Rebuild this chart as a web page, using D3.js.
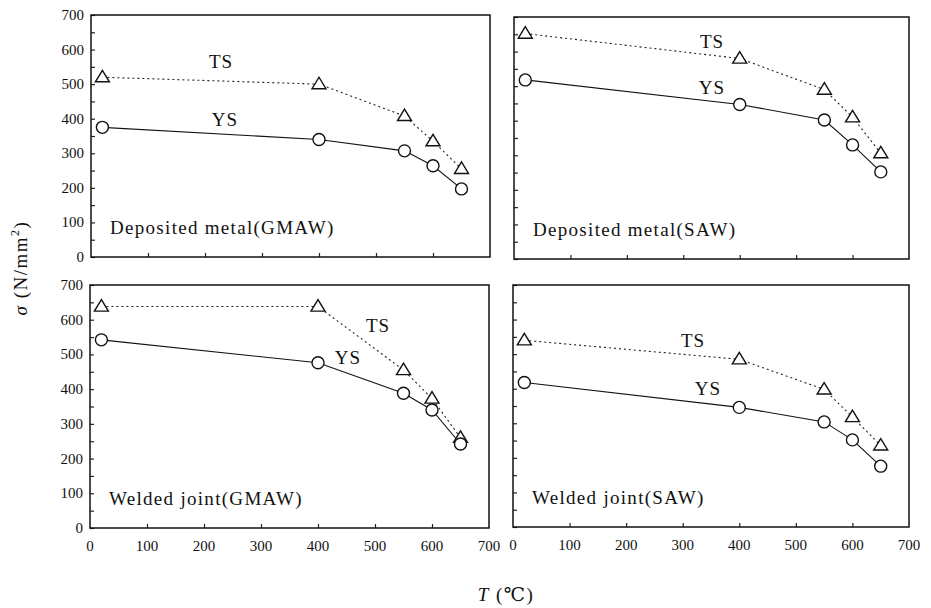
<!DOCTYPE html>
<html>
<head>
<meta charset="utf-8">
<script src="https://cdn.jsdelivr.net/npm/d3@7"></script>
<style>
  body { margin: 0; background: #fff; }
  svg text { font-family: "Liberation Serif", "DejaVu Serif", serif; fill: #111; }
</style>
</head>
<body>
<div id="main-chart"></div>
<script>
const width = 931, height = 608;

// temperatures (°C)
const temps = [20, 400, 550, 600, 650];
const xTicks = [0, 100, 200, 300, 400, 500, 600, 700];
const yTicks = [0, 100, 200, 300, 400, 500, 600, 700];

const panelNames = ["Deposited metal(GMAW)", "Deposited metal(SAW)", "Welded joint(GMAW)", "Welded joint(SAW)"];

// tensile strength (TS) and yield strength (YS), N/mm²
const tsDepGMAW = [520, 500, 408, 335, 255];
const ysDepGMAW = [375, 340, 307, 264, 197];
const tsDepSAW = [652, 580, 490, 410, 306];
const ysDepSAW = [518, 447, 402, 330, 252];
const tsJointGMAW = [638, 638, 455, 373, 260];
const ysJointGMAW = [542, 476, 388, 340, 242];
const tsJointSAW = [540, 485, 398, 318, 236];
const ysJointSAW = [418, 346, 304, 252, 176];

const panels = [
  { name: panelNames[0], ts: tsDepGMAW, ys: ysDepGMAW, x0: 91, x1: 490, y0: 15, y1: 257, yLabels: true, xLabels: false,
    tsLab: [221, 68], ysLab: [225, 126] },
  { name: panelNames[1], ts: tsDepSAW, ys: ysDepSAW, x0: 514, x1: 909, y0: 17, y1: 259, yLabels: false, xLabels: false,
    tsLab: [712, 48], ysLab: [712, 94] },
  { name: panelNames[2], ts: tsJointGMAW, ys: ysJointGMAW, x0: 90, x1: 489, y0: 285, y1: 528, yLabels: true, xLabels: true,
    tsLab: [378, 332], ysLab: [348, 364] },
  { name: panelNames[3], ts: tsJointSAW, ys: ysJointSAW, x0: 513, x1: 909, y0: 285, y1: 527, yLabels: false, xLabels: true,
    tsLab: [693, 347], ysLab: [708, 395] }
];

const serif = "Liberation Serif, DejaVu Serif, serif";

const svg = d3.select("#main-chart")
  .append("svg")
  .attr("width", width)
  .attr("height", height);

// open triangle marker
function triPath(s) {
  const h = s * 0.82;
  return `M0,${-h * 0.6}L${s / 2},${h * 0.4}L${-s / 2},${h * 0.4}Z`;
}

panels.forEach(p => {
  const x = d3.scaleLinear().domain([0, 700]).range([p.x0, p.x1]);
  const y = d3.scaleLinear().domain([0, 700]).range([p.y1, p.y0]);
  const g = svg.append("g");

  // inward ticks on left axis every 50
  const yAxis = d3.axisRight(y).tickValues(d3.range(0, 701, 50)).tickSize(4).tickFormat("");
  g.append("g").attr("transform", `translate(${p.x0},0)`).call(yAxis)
    .call(a => a.select(".domain").remove())
    .selectAll("line").attr("stroke", "#222").attr("stroke-width", 1.2);

  // inward ticks on bottom axis
  const xAxis = d3.axisTop(x).tickValues(xTicks.slice(1, -1)).tickSize(4).tickFormat("");
  g.append("g").attr("transform", `translate(0,${p.y1})`).call(xAxis)
    .call(a => a.select(".domain").remove())
    .selectAll("line").attr("stroke", "#222").attr("stroke-width", 1.2);

  // frame
  g.append("rect")
    .attr("x", p.x0).attr("y", p.y0)
    .attr("width", p.x1 - p.x0).attr("height", p.y1 - p.y0)
    .attr("fill", "none").attr("stroke", "#111").attr("stroke-width", 1.5);

  if (p.yLabels) {
    g.selectAll("text.ytick").data(yTicks).enter().append("text")
      .attr("class", "ytick")
      .attr("x", p.x0 - 7).attr("y", d => y(d) + 5)
      .attr("text-anchor", "end").attr("font-size", 15).attr("font-family", serif)
      .text(d => d);
  }
  if (p.xLabels) {
    g.selectAll("text.xtick").data(xTicks).enter().append("text")
      .attr("class", "xtick")
      .attr("x", d => x(d)).attr("y", p.y1 + 23)
      .attr("text-anchor", "middle").attr("font-size", 15).attr("font-family", serif)
      .text(d => d);
  }

  const pts = v => temps.map((t, i) => [x(t), y(v[i])]);
  const line = d3.line();

  // TS dotted line
  g.append("path").attr("d", line(pts(p.ts)))
    .attr("fill", "none").attr("stroke", "#222").attr("stroke-width", 1.1)
    .attr("stroke-dasharray", "2,3");
  // YS solid line
  g.append("path").attr("d", line(pts(p.ys)))
    .attr("fill", "none").attr("stroke", "#111").attr("stroke-width", 1.1);

  g.selectAll("path.tri").data(pts(p.ts)).enter().append("path")
    .attr("class", "tri")
    .attr("transform", d => `translate(${d[0]},${d[1]})`)
    .attr("d", triPath(14))
    .attr("fill", "#fff").attr("stroke", "#111").attr("stroke-width", 1.4);

  g.selectAll("circle.ys").data(pts(p.ys)).enter().append("circle")
    .attr("class", "ys")
    .attr("cx", d => d[0]).attr("cy", d => d[1]).attr("r", 6)
    .attr("fill", "#fff").attr("stroke", "#111").attr("stroke-width", 1.4);

  g.append("text").attr("x", p.tsLab[0]).attr("y", p.tsLab[1]).attr("font-family", serif)
    .attr("text-anchor", "middle").attr("font-size", 19).attr("letter-spacing", 1).text("TS");
  g.append("text").attr("x", p.ysLab[0]).attr("y", p.ysLab[1]).attr("font-family", serif)
    .attr("text-anchor", "middle").attr("font-size", 19).attr("letter-spacing", 1).text("YS");

  g.append("text").attr("x", p.x0 + 19).attr("y", p.y1 - 23).attr("font-family", serif)
    .attr("font-size", 19).attr("letter-spacing", 1.3).text(p.name);
});

// axis titles
const yTitle = svg.append("text")
  .attr("transform", "translate(27,268) rotate(-90)")
  .attr("text-anchor", "middle").attr("font-size", 19).attr("letter-spacing", 1.5)
  .attr("font-family", serif);
yTitle.append("tspan").attr("font-style", "italic").text("σ");
yTitle.append("tspan").text(" (N/mm");
yTitle.append("tspan").attr("font-size", 12).attr("dy", -8).text("2");
yTitle.append("tspan").attr("dy", 8).text(")");

const xTitle = svg.append("text")
  .attr("x", 506).attr("y", 601)
  .attr("text-anchor", "middle").attr("font-size", 19).attr("letter-spacing", 1.5)
  .attr("font-family", serif);
xTitle.append("tspan").attr("font-style", "italic").text("T");
xTitle.append("tspan").text(" (℃)");
</script>
</body>
</html>
